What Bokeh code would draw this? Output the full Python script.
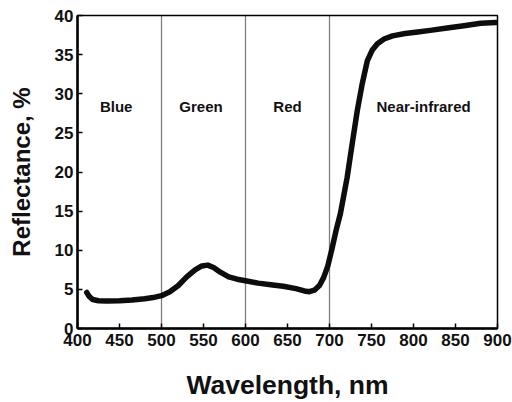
from bokeh.plotting import figure
from bokeh.models import Range1d, FixedTicker, Span, ColumnDataSource
from bokeh.core.properties import value
from bokeh.embed import file_html
from bokeh.resources import INLINE

# Spectral reflectance curve
wavelength = [411, 414, 418, 425, 435, 450, 465, 480, 490, 500, 510, 520, 530, 540,
              548, 555, 562, 570, 580, 590, 600, 615, 630, 645, 660, 670, 676, 682,
              688, 693, 698, 703, 708, 713, 721, 727, 733, 739, 745, 751, 757, 765,
              775, 790, 805, 820, 840, 860, 880, 898]
reflectance = [4.6, 4.1, 3.7, 3.55, 3.5, 3.55, 3.65, 3.8, 3.95, 4.2, 4.7, 5.5, 6.6, 7.5,
               8.0, 8.1, 7.8, 7.2, 6.6, 6.3, 6.1, 5.8, 5.6, 5.4, 5.1, 4.8, 4.7, 4.9,
               5.5, 6.5, 8.0, 10.2, 12.6, 14.7, 19.3, 23.6, 27.8, 31.3, 34.2, 35.6,
               36.4, 37.0, 37.4, 37.7, 37.9, 38.1, 38.4, 38.7, 39.0, 39.1]

band_names = ["Blue", "Green", "Red", "Near-infrared"]
band_boundaries = [500, 600, 700]
x_ticks = [400, 450, 500, 550, 600, 650, 700, 750, 800, 850, 900]
y_ticks = [0, 5, 10, 15, 20, 25, 30, 35, 40]
x_title = "Wavelength, nm"
y_title = "Reflectance, %"

# label placement
band_label_x = [446, 547, 650, 812]
band_label_y = [28.4, 28.4, 28.4, 28.4]

p = figure(width=512, height=402, x_range=Range1d(400, 900), y_range=Range1d(0, 40),
           output_backend="svg", toolbar_location=None,
           min_border_left=77, min_border_right=15, min_border_top=15, min_border_bottom=74)

p.background_fill_color = "white"
p.border_fill_color = "white"
p.xgrid.visible = False
p.ygrid.visible = False
p.outline_line_color = "black"
p.outline_line_width = 1.5

for b in band_boundaries:
    p.add_layout(Span(location=b, dimension="height", line_color="#000000",
                      line_width=1.3, line_dash="1 1"))

src = ColumnDataSource(dict(x=wavelength, y=reflectance))
p.line("x", "y", source=src, line_color="#0d0d0d", line_width=5.5,
       line_join="round", line_cap="round")

lsrc = ColumnDataSource(dict(x=band_label_x, y=band_label_y, t=band_names))
p.text("x", "y", text="t", source=lsrc, text_font=value("Liberation Sans"),
       text_font_style="bold", text_font_size="15px", text_align="center",
       text_baseline="middle", text_color="#111111")

for ax in (p.xaxis[0], p.yaxis[0]):
    ax.axis_line_width = 2.5
    ax.axis_line_color = "black"
    ax.major_tick_in = 5
    ax.major_tick_out = 0
    ax.major_tick_line_width = 1.5
    ax.minor_tick_line_color = None
    ax.major_label_text_font = "Liberation Sans"
    ax.major_label_text_font_style = "bold"
    ax.major_label_text_font_size = "17px"
    ax.major_label_text_color = "#111111"
    ax.axis_label_text_font = "Liberation Sans"
    ax.axis_label_text_font_style = "bold"
    ax.axis_label_text_color = "#111111"

p.xaxis.ticker = FixedTicker(ticks=x_ticks)
p.yaxis.ticker = FixedTicker(ticks=y_ticks)
p.xaxis.major_label_standoff = 5
p.yaxis.major_label_standoff = 4
p.xaxis.axis_label = x_title
p.yaxis.axis_label = y_title
p.xaxis.axis_label_text_font_size = "26.5px"
p.yaxis.axis_label_text_font_size = "24px"
p.xaxis.axis_label_standoff = 21
p.yaxis.axis_label_standoff = 17

open("out.html", "w").write(file_html(p, INLINE))
